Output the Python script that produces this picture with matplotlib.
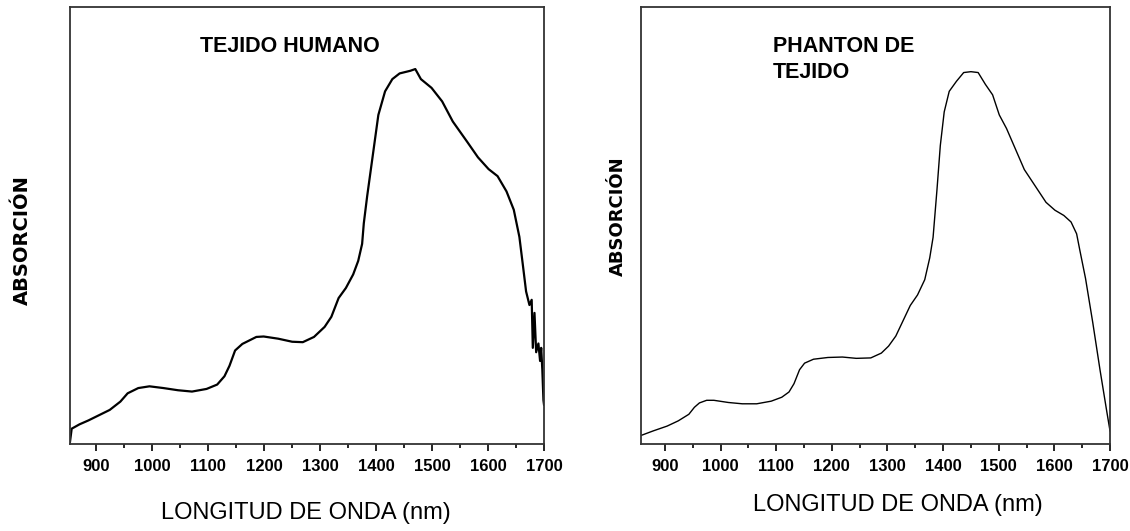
import matplotlib
matplotlib.use("Agg")
import matplotlib.pyplot as plt
from matplotlib.ticker import MultipleLocator

# Human tissue spectrum (normalised absorbance)
human_nm = [853, 856, 870, 886, 905, 924, 943, 956, 975, 995, 1020, 1046, 1071,
            1097, 1116, 1129, 1138, 1148, 1161, 1186, 1199, 1225, 1250, 1269,
            1289, 1308, 1320, 1333, 1346, 1359, 1368, 1375, 1378, 1384, 1394,
            1404, 1416, 1429, 1442, 1461, 1470, 1480, 1499, 1518, 1537, 1563,
            1582, 1601, 1617, 1633, 1646, 1656, 1662, 1668, 1674, 1678, 1680,
            1683, 1686, 1690, 1693, 1695, 1697, 1699, 1700]
human_abs = [0.005, 0.035, 0.045, 0.054, 0.066, 0.078, 0.097, 0.116, 0.128, 0.132,
             0.128, 0.123, 0.120, 0.126, 0.136, 0.155, 0.179, 0.214, 0.229,
             0.245, 0.246, 0.241, 0.234, 0.233, 0.245, 0.268, 0.291, 0.334,
             0.357, 0.388, 0.419, 0.458, 0.505, 0.567, 0.660, 0.753, 0.807,
             0.835, 0.848, 0.854, 0.858, 0.835, 0.815, 0.784, 0.738, 0.691,
             0.656, 0.629, 0.613, 0.578, 0.536, 0.474, 0.412, 0.349, 0.318,
             0.330, 0.220, 0.300, 0.210, 0.230, 0.190, 0.220, 0.170, 0.100, 0.09]

# Tissue phantom spectrum
phantom_nm = [858, 879, 904, 924, 943, 953, 962, 975, 988, 1014, 1039, 1065, 1091,
              1110, 1123, 1132, 1142, 1151, 1167, 1193, 1219, 1244, 1270, 1289,
              1302, 1315, 1328, 1341, 1354, 1367, 1376, 1382, 1389, 1395, 1402,
              1411, 1424, 1437, 1450, 1463, 1476, 1489, 1501, 1514, 1530, 1546,
              1559, 1572, 1585, 1601, 1617, 1630, 1640, 1646, 1656, 1669, 1682,
              1694, 1700]
phantom_abs = [0.020, 0.030, 0.041, 0.053, 0.068, 0.084, 0.094, 0.100, 0.100,
               0.095, 0.092, 0.092, 0.098, 0.107, 0.119, 0.138, 0.170, 0.185,
               0.194, 0.198, 0.199, 0.196, 0.197, 0.208, 0.224, 0.247, 0.282,
               0.317, 0.341, 0.376, 0.426, 0.473, 0.582, 0.683, 0.760, 0.807,
               0.830, 0.850, 0.852, 0.850, 0.823, 0.799, 0.753, 0.722, 0.675,
               0.628, 0.603, 0.578, 0.553, 0.535, 0.523, 0.508, 0.481, 0.442,
               0.379, 0.278, 0.170, 0.076, 0.030]

W, H = 1130, 531
fig = plt.figure(figsize=(W / 100, H / 100), dpi=100)


def px(x, y):
    return x / W, 1 - y / H


tick_font = dict(family='Liberation Sans', weight='bold', size=12)


def setup(ax, xmin):
    ax.set_xlim(xmin, 1700)
    ax.set_ylim(0, 1)
    ax.set_yticks([])
    ax.xaxis.set_major_locator(MultipleLocator(100))
    ax.xaxis.set_minor_locator(MultipleLocator(50))
    ax.tick_params(axis='x', which='major', direction='out', length=5,
                   width=1.2, pad=6)
    ax.tick_params(axis='x', which='minor', direction='out', length=3, width=1.2)
    for lab in ax.get_xticklabels():
        lab.set(**tick_font)
    for s in ax.spines.values():
        s.set_linewidth(1.3)
        s.set_color('#333333')


ax1 = fig.add_axes([70 / W, 1 - 444 / H, 474 / W, 437 / H])
ax1.plot(human_nm, human_abs, color='black', linewidth=1.6)
setup(ax1, 853)

ax2 = fig.add_axes([641 / W, 1 - 444 / H, 469 / W, 437 / H])
ax2.plot(phantom_nm, phantom_abs, color='black', linewidth=1.0)
setup(ax2, 857)

title_font = dict(family='Liberation Sans', weight='bold', size=15.5)
fig.text(*px(200, 47), 'TEJIDO HUMANO', ha='left', va='center', **title_font)
fig.text(*px(773, 47), 'PHANTON DE', ha='left', va='center', **title_font)
fig.text(*px(773, 73), 'TEJIDO', ha='left', va='center', **title_font)

fig.text(*px(22, 240), 'ABSORCIÓN', rotation=90, ha='center', va='center',
         family='DejaVu Sans', weight='bold', size=14)
fig.text(*px(618, 216), 'ABSORCIÓN', rotation=90, ha='center', va='center',
         family='DejaVu Sans', weight='bold', size=13)

fig.text(*px(306, 513), 'LONGITUD DE ONDA (nm)', ha='center', va='center',
         family='Liberation Sans', size=17)
fig.text(*px(898, 505), 'LONGITUD DE ONDA (nm)', ha='center', va='center',
         family='Liberation Sans', size=17)

fig.savefig('out.png', dpi=100, facecolor='white')
